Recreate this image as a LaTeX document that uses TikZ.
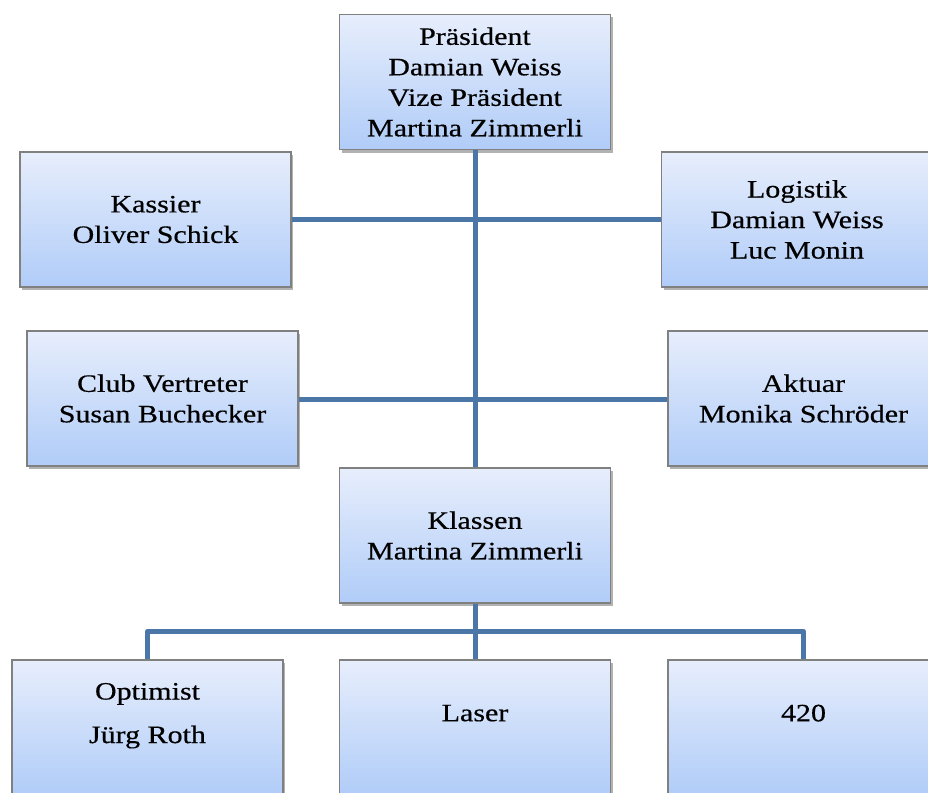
\documentclass[tikz,border=0pt]{standalone}
\usepackage{fontspec}
\setmainfont[FakeStretch=1.2,FakeBold=0.5]{Liberation Serif}
\usetikzlibrary{shadows}
\definecolor{kastenoben}{RGB}{231,238,252}
\definecolor{kastenunten}{RGB}{176,204,248}
\definecolor{kastenrand}{RGB}{128,128,128}
\definecolor{linienblau}{RGB}{74,118,168}
\tikzset{
  kasten/.style={rectangle, draw=kastenrand, line width=1.2pt,
    top color=kastenoben, bottom color=kastenunten,
    minimum width=271pt, minimum height=135pt, inner sep=0pt, align=center,
    font=\fontsize{25}{30.5}\selectfont,
    drop shadow={shadow xshift=2pt, shadow yshift=-3pt, fill=black, opacity=0.3}},
  unten/.style={kasten, text depth=29pt},
  linie/.style={draw=linienblau, line width=5pt}
}
\begin{document}
\begin{tikzpicture}[x=1pt, y=-1pt]
	\useasboundingbox (0,0) rectangle (928,792);
	\clip (0,0) rectangle (928,792);
	% Vorstand
	\node[kasten] (praes) at (475,82) {Präsident\\Damian Weiss\\Vize Präsident\\Martina Zimmerli};
	\node[kasten] (kassier) at (155.5,219.5) {Kassier\\Oliver Schick};
	\node[kasten] (logistik) at (797,219.5) {Logistik\\Damian Weiss\\Luc Monin};
	\node[kasten] (club) at (162.5,398.5) {Club Vertreter\\Susan Buchecker};
	\node[kasten] (aktuar) at (803.5,398.5) {Aktuar\\Monika Schröder};
	\node[kasten] (klassen) at (475,535.5) {Klassen\\Martina Zimmerli};
	% Klassen
	\node[unten] (optimist) at (147.5,727.5) {Optimist\\[13pt]Jürg Roth};
	\node[unten] (laser) at (475,727.5) {Laser};
	\node[unten] (vierzwanzig) at (803.5,727.5) {420};
	% Linien
	\draw[linie] (praes.south) -- (klassen.north); %Stamm
	\draw[linie] (kassier.east |- 0,219) -- (logistik.west |- 0,219);
	\draw[linie] (club.east |- 0,399) -- (aktuar.west |- 0,399);
	\draw[linie] (klassen.south) -- (laser.north);
	\draw[linie, line join=round] (optimist.north) -- ++(0,-28) -| (vierzwanzig.north); %Querbalken
\end{tikzpicture}
\end{document}
